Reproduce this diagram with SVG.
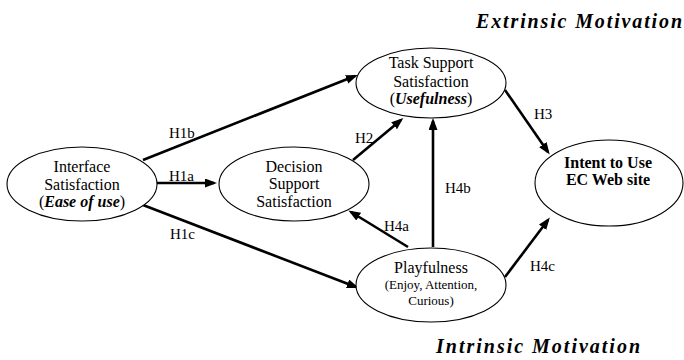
<svg xmlns="http://www.w3.org/2000/svg" width="684" height="360" viewBox="0 0 684 360">
<style>
text{font-family:"Liberation Serif","Times New Roman",serif;fill:#000}
.nd ellipse{fill:#fff;stroke:#000;stroke-width:1.1}
.cx line{stroke:#000;stroke-width:2.6;fill:none}
.t{font-size:16px;text-anchor:middle}
.s{font-size:13px;text-anchor:middle}
.bi{font-weight:bold;font-style:italic}
.b{font-weight:bold}
.lbl{font-size:15px}
.head{font-size:20px;font-weight:bold;font-style:italic}
</style>
<defs>
<marker id="arr" markerUnits="userSpaceOnUse" markerWidth="14" markerHeight="10" refX="9" refY="4.5" orient="auto">
<path d="M0,0 L12,4.5 L0,9 Z" fill="#000"/>
</marker>
</defs>
<rect width="684" height="360" fill="#fff"/>
<g id="connectors" class="cx">
<line x1="143" y1="160" x2="355" y2="76" marker-end="url(#arr)"/>
<line x1="157" y1="183" x2="214" y2="183" marker-end="url(#arr)"/>
<line x1="143" y1="205" x2="356" y2="287" marker-end="url(#arr)"/>
<line x1="353" y1="160" x2="401" y2="120" marker-end="url(#arr)"/>
<line x1="433" y1="247" x2="433" y2="121" marker-end="url(#arr)"/>
<line x1="408" y1="247" x2="351" y2="212" marker-end="url(#arr)"/>
<line x1="505" y1="90" x2="548" y2="152" marker-end="url(#arr)"/>
<line x1="505" y1="277" x2="548" y2="220" marker-end="url(#arr)"/>
</g>
<g id="labels">
<text class="lbl" x="169" y="138">H1b</text>
<text class="lbl" x="355" y="143">H2</text>
<text class="lbl" x="169" y="181">H1a</text>
<text class="lbl" x="170" y="239">H1c</text>
<text class="lbl" x="384" y="231">H4a</text>
<text class="lbl" x="445" y="193">H4b</text>
<text class="lbl" x="534" y="119">H3</text>
<text class="lbl" x="530" y="271">H4c</text>
</g>
<g id="interface" class="nd">
<ellipse cx="82" cy="184" rx="75" ry="37"/>
<text class="t" x="82" y="172">Interface</text>
<text class="t" x="82" y="190">Satisfaction</text>
<text class="t" x="82" y="207">(<tspan class="bi">Ease of use</tspan>)</text>
</g>
<g id="decision" class="nd">
<ellipse cx="294" cy="184" rx="75" ry="37"/>
<text class="t" x="294" y="172">Decision</text>
<text class="t" x="294" y="189">Support</text>
<text class="t" x="294" y="207">Satisfaction</text>
</g>
<g id="task" class="nd">
<ellipse cx="431" cy="83" rx="75" ry="35"/>
<text class="t" x="431" y="68">Task Support</text>
<text class="t" x="431" y="87">Satisfaction</text>
<text class="t" x="431" y="104">(<tspan class="bi">Usefulness</tspan>)</text>
</g>
<g id="intent" class="nd">
<ellipse cx="609" cy="183" rx="74" ry="43"/>
<text class="t b" x="608" y="168">Intent to Use</text>
<text class="t b" x="608" y="185">EC Web site</text>
</g>
<g id="playfulness" class="nd">
<ellipse cx="431" cy="285" rx="75" ry="37"/>
<text class="t" x="431" y="273">Playfulness</text>
<text class="s" x="431" y="289">(Enjoy, Attention,</text>
<text class="s" x="431" y="305">Curious)</text>
</g>
<g id="titles">
<text class="head" x="476" y="28" textLength="206" lengthAdjust="spacing">Extrinsic Motivation</text>
<text class="head" x="436" y="353" textLength="204" lengthAdjust="spacing">Intrinsic Motivation</text>
</g>
</svg>
